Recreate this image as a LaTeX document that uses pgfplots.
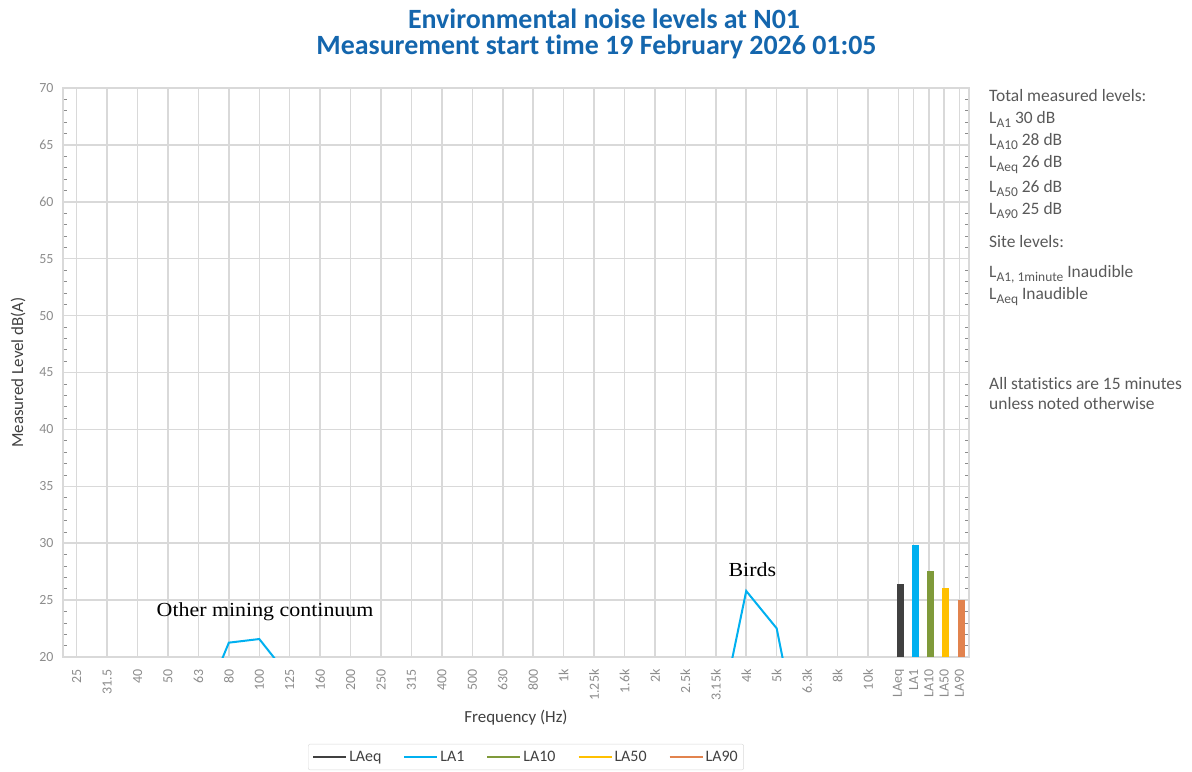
\documentclass[border=0pt]{standalone}
\usepackage{fontspec}
\setmainfont{Carlito}[Ligatures=NoCommon]
\setsansfont{Carlito}[Ligatures=NoCommon]
\newfontfamily\annfont[FakeStretch=1.1]{Liberation Serif}
\usepackage{pgfplots}
\pgfplotsset{compat=1.18}
\definecolor{gridgray}{HTML}{D9D9D9}
\definecolor{axgray}{HTML}{BFBFBF}
\definecolor{tickgray}{HTML}{8C8C8C}
\definecolor{labgray}{HTML}{404040}
\definecolor{txtgray}{HTML}{595959}
\definecolor{titleblue}{HTML}{1466AD}
\definecolor{cLAeq}{HTML}{404040}
\definecolor{cLAone}{HTML}{00B0F0}
\definecolor{cLAten}{HTML}{7F9A3A}
\definecolor{cLAfifty}{HTML}{FFC000}
\definecolor{cLAninety}{HTML}{E2834E}
\newcommand\sub[1]{\raisebox{-0.28em}{\fontsize{13.5}{13.5}\selectfont #1}}
\pgfplotstableread{
x y
0 12
1 11
2 11
3 12
4 14.8
5 21.26
6 21.58
7 18.2
8 15
9 14
10 13
11 12
12 12
13 11
14 11
15 11
16 10
17 10
18 10
19 10
20 11
21 12.9
22 25.8
23 22.52
24 9.1
25 8
26 7
}\laone
\begin{document}
\begin{tikzpicture}
\path[use as bounding box] (0,0) rectangle (1192bp,-772bp);
\node[font=\fontsize{28}{28}\selectfont\bfseries, text=titleblue, anchor=base, inner sep=0pt] at (604bp,-28.3bp) {Environmental noise levels at N01};
\node[font=\fontsize{28}{28}\selectfont\bfseries, text=titleblue, anchor=base, inner sep=0pt] at (596.5bp,-54.3bp) {Measurement start time 19 February 2026 01:05};
\begin{axis}[
  at={(63bp,-657bp)}, anchor=south west,
  width=906bp, height=569bp, scale only axis,
  xmin=-0.45, xmax=29.32, ymin=20, ymax=70,
  xtick={0,...,26,27,27.5,28,28.5,29},
  xticklabels={25,31.5,40,50,63,80,100,125,160,200,250,315,400,500,630,800,1k,1.25k,1.6k,2k,2.5k,3.15k,4k,5k,6.3k,8k,10k,LAeq,LA1,LA10,LA50,LA90},
  xticklabel style={rotate=90, anchor=east, font=\fontsize{14}{14}\selectfont, text=tickgray, xshift=-9bp},
  ytick={20,25,...,70},
  minor y tick num=4,
  yticklabel style={font=\fontsize{14}{14}\selectfont, text=tickgray, xshift=-6bp},
  /pgf/number format/assume math mode=true,
  grid=major,
  major grid style={gridgray, line width=1.5bp},
  axis line style={gridgray, line width=1.5bp},
  major tick length=0pt,
  minor tick length=4bp,
  tick align=inside,
  minor y tick style={tickgray, line width=0.6bp},
  xtick style={draw=none},
  every axis y label/.style={at={(rel axis cs:0,0.5)}, xshift=-45bp, rotate=90, anchor=center, font=\fontsize{17}{17}\selectfont, text=labgray},
  every axis x label/.style={at={(rel axis cs:0.5,0)}, yshift=-61bp, anchor=center, font=\fontsize{17}{17}\selectfont, text=labgray},
  ylabel={Measured Level dB(A)},
  xlabel={Frequency (Hz)},
  legend columns=5,
  legend style={at={(rel axis cs:0.511,0)}, yshift=-100bp, anchor=center, draw=gridgray, rounded corners=2bp, font=\fontsize{16}{16}\selectfont, text=labgray, inner xsep=4bp, inner ysep=5bp, /tikz/every even column/.append style={column sep=20bp}},
  legend image code/.code={\draw[#1, line width=2bp] (0bp,0bp) -- (33bp,0bp);},
]
\addplot[cLAone, line width=2bp, forget plot] table[x=x, y=y] {\laone};
\addplot[ybar, bar width=7bp, fill=cLAeq, draw=none, forget plot] coordinates {(27.06,26.39)};
\addplot[ybar, bar width=7bp, fill=cLAone, draw=none, forget plot] coordinates {(27.56,29.84)};
\addplot[ybar, bar width=7bp, fill=cLAten, draw=none, forget plot] coordinates {(28.05,27.56)};
\addplot[ybar, bar width=7bp, fill=cLAfifty, draw=none, forget plot] coordinates {(28.55,26.06)};
\addplot[ybar, bar width=7bp, fill=cLAninety, draw=none, forget plot] coordinates {(29.06,25.0)};
\addlegendimage{cLAeq}\addlegendentry{LAeq}
\addlegendimage{cLAone}\addlegendentry{LA1}
\addlegendimage{cLAten}\addlegendentry{LA10}
\addlegendimage{cLAfifty}\addlegendentry{LA50}
\addlegendimage{cLAninety}\addlegendentry{LA90}
\node[font=\annfont\fontsize{20}{20}\selectfont] at (axis cs:6.19,23.95) {Other mining continuum};
\node[font=\annfont\fontsize{20}{20}\selectfont] at (axis cs:22.2,27.7) {Birds};
\end{axis}
\begin{scope}[every node/.style={anchor=base west, inner sep=0pt, font=\fontsize{17.5}{17.5}\selectfont, text=txtgray}]
\node at (989bp,-101bp) {Total measured levels:};
\node at (989bp,-123bp) {L\sub{A1} 30 dB};
\node at (989bp,-145bp) {L\sub{A10} 28 dB};
\node at (989bp,-167bp) {L\sub{Aeq} 26 dB};
\node at (989bp,-192bp) {L\sub{A50} 26 dB};
\node at (989bp,-214bp) {L\sub{A90} 25 dB};
\node at (989bp,-247bp) {Site levels:};
\node at (989bp,-277bp) {L\sub{A1, 1minute} Inaudible};
\node at (989bp,-299bp) {L\sub{Aeq} Inaudible};
\node at (989bp,-389bp) {All statistics are 15 minutes};
\node at (989bp,-409bp) {unless noted otherwise};
\end{scope}
\end{tikzpicture}
\end{document}
